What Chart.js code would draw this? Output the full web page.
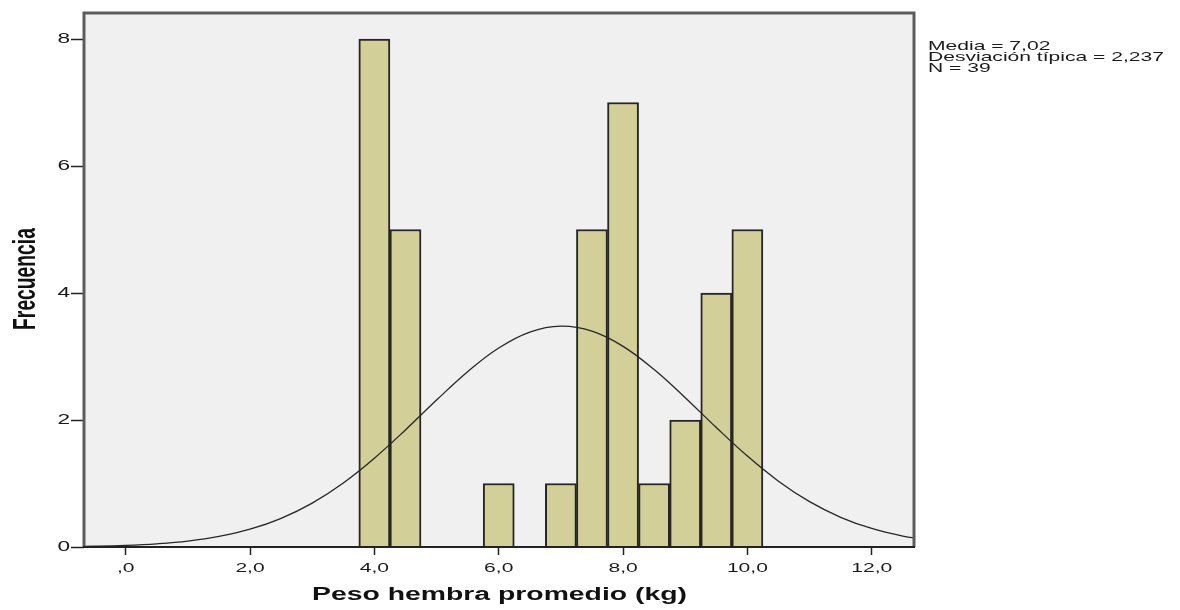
<!DOCTYPE html>
<html lang="es">
<head>
<meta charset="UTF-8">
<title>Peso hembra promedio (kg)</title>
<script src="https://cdn.jsdelivr.net/npm/chart.js@4"></script>
<style>
  * { margin: 0; padding: 0; }
  body { background: #fff; }
  canvas { display: block; }
</style>
</head>
<body>
<canvas id="hist" width="1180" height="610"></canvas>
<script>
// histogram bins (centres, width 0.5) and counts
const binCenters = [4.0, 4.5, 6.0, 7.0, 7.5, 8.0, 8.5, 9.0, 9.5, 10.0];
const frequencies = [8, 5, 1, 1, 5, 7, 1, 2, 4, 5];

// normal curve
const curveX = [-1.0, -0.5, 0.0, 0.5, 1.0, 1.5, 2.0, 2.5, 3.0, 3.5, 4.0, 4.5, 5.0, 5.5, 6.0, 6.5, 7.0,
                7.5, 8.0, 8.5, 9.0, 9.5, 10.0, 10.5, 11.0, 11.5, 12.0, 12.5, 13.0];
const curveY = [0.006, 0.012, 0.025, 0.050, 0.093, 0.166, 0.280, 0.452, 0.692, 1.009, 1.399, 1.844, 2.314, 2.761, 3.134, 3.385, 3.478,
                3.399, 3.160, 2.794, 2.351, 1.881, 1.432, 1.037, 0.714, 0.468, 0.292, 0.173, 0.098];

const xTicks = [0, 2, 4, 6, 8, 10, 12];
const xTickLabels = [',0', '2,0', '4,0', '6,0', '8,0', '10,0', '12,0'];
const yTicks = [0, 2, 4, 6, 8];
const yTickLabels = ['0', '2', '4', '6', '8'];

const xTitle = 'Peso hembra promedio (kg)';
const yTitle = 'Frecuencia';
const statsLines = ['Media = 7,02', 'Desviación típica = 2,237', 'N = 39'];

const FONT = '"Liberation Sans", Arial, sans-serif';
const STRETCH = 1.62; // the picture is wider than tall, text looks stretched

function stretchedText(ctx, text, x, y, align) {
  ctx.save();
  ctx.translate(x, y);
  ctx.scale(STRETCH, 1);
  ctx.textAlign = align;
  ctx.fillText(text, 0, 0);
  ctx.restore();
}

const spssPlugin = {
  id: 'spss',
  beforeDatasetsDraw(chart) {
    const { ctx, chartArea: a } = chart;
    ctx.save();
    ctx.fillStyle = '#f0f0f0';
    ctx.fillRect(a.left, a.top, a.right - a.left, a.bottom - a.top);
    ctx.restore();
  },
  afterDraw(chart) {
    const { ctx, chartArea: a, scales } = chart;
    ctx.save();
    // frame
    ctx.strokeStyle = '#5c5c5c';
    ctx.lineWidth = 3;
    ctx.beginPath();
    ctx.moveTo(a.left, a.bottom);
    ctx.lineTo(a.left, a.top);
    ctx.lineTo(a.right, a.top);
    ctx.lineTo(a.right, a.bottom);
    ctx.stroke();
    ctx.strokeStyle = '#222';
    ctx.lineWidth = 2;
    ctx.beginPath();
    ctx.moveTo(a.left - 1, a.bottom);
    ctx.lineTo(a.right + 1, a.bottom);
    ctx.stroke();

    ctx.fillStyle = '#1a1a1a';
    ctx.textBaseline = 'middle';
    // x tick labels
    ctx.font = '13px ' + FONT;
    xTicks.forEach((v, i) => {
      stretchedText(ctx, xTickLabels[i], scales.x.getPixelForValue(v), a.bottom + 21, 'center');
    });
    // y tick labels
    ctx.font = '14px ' + FONT;
    yTicks.forEach((v, i) => {
      stretchedText(ctx, yTickLabels[i], 70, scales.y.getPixelForValue(v), 'right');
    });

    // x title
    ctx.fillStyle = '#111';
    ctx.textBaseline = 'alphabetic';
    ctx.font = 'bold 17.5px ' + FONT;
    stretchedText(ctx, xTitle, (a.left + a.right) / 2 + 0.5, 600, 'center');

    // y title (rotated, glyph height stretched)
    ctx.save();
    ctx.translate(35, (a.top + a.bottom) / 2 - 1);
    ctx.rotate(-Math.PI / 2);
    ctx.scale(1, STRETCH);
    ctx.font = 'bold 19.3px ' + FONT;
    ctx.textAlign = 'center';
    ctx.fillText(yTitle, 0, 0);
    ctx.restore();

    // stats box text
    ctx.fillStyle = '#1a1a1a';
    ctx.font = '13px ' + FONT;
    statsLines.forEach((t, i) => {
      stretchedText(ctx, t, 928, 50 + i * 10.8, 'left');
    });
    ctx.restore();
  }
};

new Chart(document.getElementById('hist'), {
  type: 'bar',
  data: {
    datasets: [
      {
        type: 'line',
        data: curveX.map((x, i) => ({ x, y: curveY[i] })),
        borderColor: '#262626',
        borderWidth: 1.3,
        pointRadius: 0,
        tension: 0.4,
        fill: false,
        order: 0
      },
      {
        type: 'bar',
        data: binCenters.map((x, i) => ({ x, y: frequencies[i] })),
        backgroundColor: '#d3cf98',
        borderColor: '#262626',
        borderWidth: 2,
        barPercentage: 1,
        categoryPercentage: 1,
        order: 1
      }
    ]
  },
  options: {
    responsive: false,
    devicePixelRatio: 1,
    animation: false,
    layout: { padding: { top: 13, right: 266, left: 0, bottom: 0 } },
    plugins: { legend: { display: false }, tooltip: { enabled: false } },
    scales: {
      x: {
        type: 'linear',
        min: -0.671,
        max: 12.68,
        offset: false,
        afterBuildTicks: s => { s.ticks = xTicks.map(v => ({ value: v })); },
        afterFit: s => { s.height = 63; },
        ticks: { display: false },
        border: { display: false },
        grid: { offset: false, drawOnChartArea: false, drawTicks: true, tickLength: 8, tickColor: '#222', tickWidth: 1.5 }
      },
      y: {
        min: 0,
        max: 8.41,
        afterBuildTicks: s => { s.ticks = yTicks.map(v => ({ value: v })); },
        afterFit: s => { s.width = 84; },
        ticks: { display: false },
        border: { display: false },
        grid: { offset: false, drawOnChartArea: false, drawTicks: true, tickLength: 13, tickColor: '#222', tickWidth: 1.5 }
      }
    }
  },
  plugins: [spssPlugin]
});
</script>
</body>
</html>
